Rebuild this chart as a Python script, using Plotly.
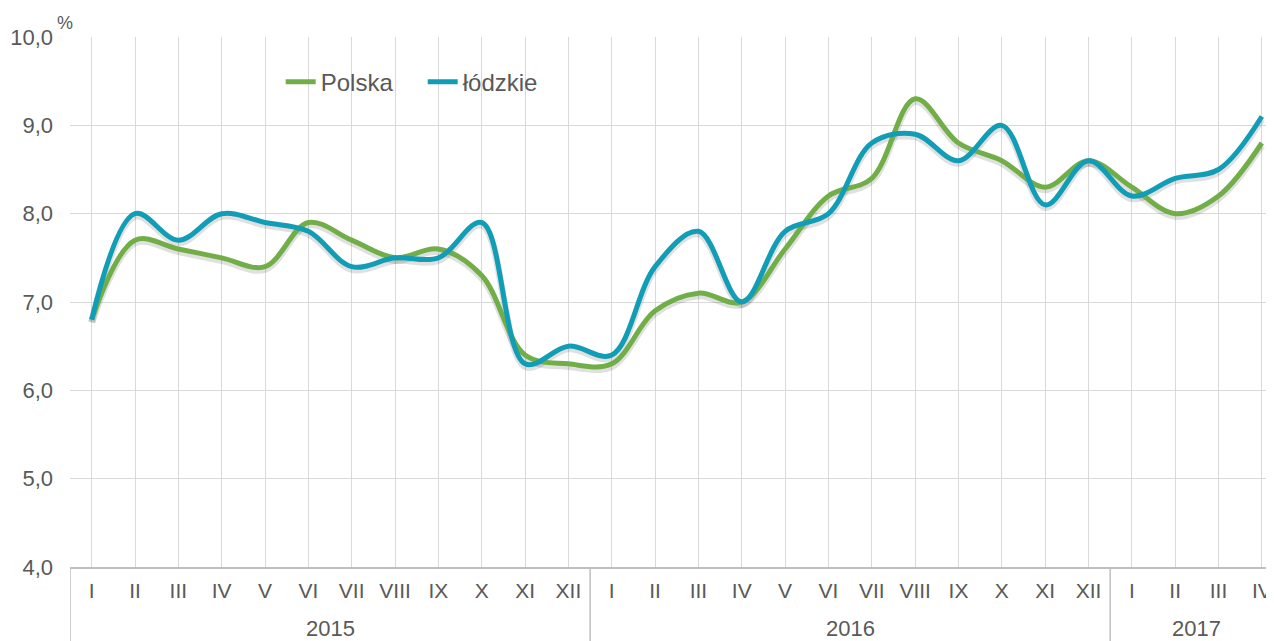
import plotly.graph_objects as go

years = ["2015"] * 12 + ["2016"] * 12 + ["2017"] * 4
months = ["I", "II", "III", "IV", "V", "VI", "VII", "VIII", "IX", "X", "XI", "XII"] * 2 + ["I", "II", "III", "IV"]

polska = [6.8, 7.7, 7.6, 7.5, 7.4, 7.9, 7.7, 7.5, 7.6, 7.3, 6.4, 6.3,
          6.3, 6.9, 7.1, 7.0, 7.6, 8.2, 8.4, 9.3, 8.8, 8.6, 8.3, 8.6,
          8.3, 8.0, 8.2, 8.8]
lodzkie = [6.8, 8.0, 7.7, 8.0, 7.9, 7.8, 7.4, 7.5, 7.5, 7.9, 6.3, 6.5,
           6.4, 7.4, 7.8, 7.0, 7.8, 8.0, 8.8, 8.9, 8.6, 9.0, 8.1, 8.6,
           8.2, 8.4, 8.5, 9.1]

series = [("Polska", polska, "#71AE48"), ("łódzkie", lodzkie, "#109DB5")]
yticks = [4, 5, 6, 7, 8, 9, 10]

FONT = "Liberation Sans, Arial, sans-serif"
GREY = "#595959"
LINE = "#BFBFBF"

idx = list(range(len(months)))

fig = go.Figure()
# invisible carrier on the base axis so the gridlines/ticks are drawn
fig.add_trace(go.Scatter(x=idx, y=polska, mode="lines", showlegend=False, hoverinfo="skip",
                         line=dict(color="rgba(0,0,0,0)", width=1)))
# soft shadows
for name, vals, color in series:
    fig.add_trace(go.Scatter(x=idx, y=vals, mode="lines", showlegend=False, hoverinfo="skip",
                             line=dict(color="rgba(0,0,0,0.12)", width=7, shape="spline", smoothing=1.0),
                             yaxis="y2"))
for name, vals, color in series:
    fig.add_trace(go.Scatter(x=idx, y=vals, mode="lines", name=name,
                             line=dict(color=color, width=5, shape="spline", smoothing=1.0),
                             yaxis="y3"))

# year groups: dividers and centred labels
groups = []
for i, yv in enumerate(years):
    if not groups or groups[-1][0] != yv:
        groups.append([yv, i, i])
    else:
        groups[-1][2] = i

shapes = []
annotations = []
for yv, a, b in groups:
    shapes.append(dict(type="line", xref="x", yref="paper", x0=a - 0.5, x1=a - 0.5,
                       y0=0, y1=-0.14, line=dict(color=LINE, width=1.5)))
    annotations.append(dict(text=yv, x=(a + b) / 2, y=-0.119, xref="x", yref="paper",
                            showarrow=False, xanchor="center", yanchor="middle", yshift=2,
                            font=dict(size=22, color=GREY)))
annotations.append(dict(text="%", x=-0.0125, y=1.0, xref="paper", yref="paper",
                        xanchor="left", yanchor="bottom", yshift=2, showarrow=False,
                        font=dict(size=18, color=GREY)))

fig.update_layout(
    width=1266, height=633,
    margin=dict(l=62, r=0, t=29, b=74),
    paper_bgcolor="white", plot_bgcolor="white",
    separators=", ",
    font=dict(family=FONT, size=21, color=GREY),
    showlegend=True,
    legend=dict(orientation="h", x=0.175, y=0.915, xanchor="left", yanchor="middle",
                font=dict(size=24, color=GREY), bgcolor="rgba(0,0,0,0)",
                entrywidth=97, entrywidthmode="pixels"),
    xaxis=dict(range=[-0.5, 27.28], tickvals=idx, ticktext=months, showgrid=True,
               gridcolor="#D9D9D9", gridwidth=1, zeroline=False,
               showline=True, linecolor=LINE, linewidth=1.5, ticks="",
               tickfont=dict(size=21, color=GREY), ticklabelstandoff=4, automargin=False),
    yaxis=dict(range=[4, 10], tickvals=yticks, tickformat=".1f", showgrid=True,
               gridcolor="#D9D9D9", gridwidth=1, zeroline=False, showline=False,
               tickfont=dict(size=22, color=GREY), ticklabelstandoff=16, automargin=False),
    yaxis2=dict(range=[4.03, 10.03], overlaying="y", visible=False),
    yaxis3=dict(range=[4, 10], overlaying="y", visible=False),
    shapes=shapes,
    annotations=annotations,
)

fig.write_html("out.html")
